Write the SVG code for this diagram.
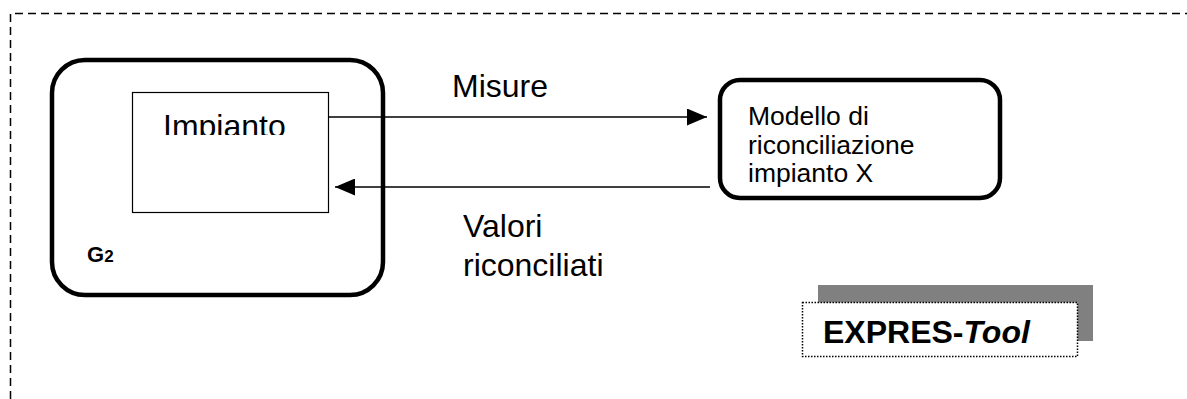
<svg xmlns="http://www.w3.org/2000/svg" width="1187" height="399" viewBox="0 0 1187 399">
  <style>
    .t { font-family: "Liberation Sans", Arial, sans-serif; fill: #000; }
    .big { font-size: 32px; }
    .mid { font-size: 26.5px; }
    .thick { fill: #fff; stroke: #000; stroke-width: 4.5; }
    .conn { stroke: #000; stroke-width: 1.5; fill: none; }
  </style>
  <defs>
    <marker id="arr" viewBox="0 0 20 17" refX="20" refY="8.5" markerWidth="20" markerHeight="17" markerUnits="userSpaceOnUse" orient="auto">
      <path d="M0,0 L20,8.5 L0,17 Z" fill="#000"/>
    </marker>
    <clipPath id="clipImp">
      <rect x="133" y="93" width="194" height="42"/>
    </clipPath>
  </defs>
  <rect width="1187" height="399" fill="#fff"/>

  <g id="frame">
    <path d="M10.5,399 L10.5,13.5 L1187,13.5" fill="none" stroke="#000" stroke-width="1.5" stroke-dasharray="8 5"/>
  </g>

  <g id="g2">
    <rect class="thick" x="52" y="60" width="331" height="235" rx="33" ry="33"/>
    <text class="t" x="87" y="262" font-weight="bold" font-size="22px">G<tspan font-size="17px">2</tspan></text>
  </g>

  <g id="impianto">
    <rect x="132.5" y="92.5" width="196" height="120" fill="#fff" stroke="#000" stroke-width="1.2"/>
    <text class="t big" x="163" y="137" clip-path="url(#clipImp)">Impianto</text>
  </g>

  <g id="modello">
    <rect class="thick" x="720" y="80" width="280" height="118" rx="20" ry="20"/>
    <text class="t mid" x="748" y="125">Modello di</text>
    <text class="t mid" x="748" y="153.5">riconciliazione</text>
    <text class="t mid" x="748" y="182">impianto X</text>
  </g>

  <g id="expres">
    <rect x="818" y="285" width="275" height="56" fill="#808080"/>
    <rect x="802.5" y="302.5" width="275" height="54" fill="#fff" stroke="#000" stroke-width="1.5" stroke-dasharray="1.5 1.5"/>
    <text class="t" x="823" y="343" font-size="32px" font-weight="bold">EXPRES-<tspan font-style="italic">Tool</tspan></text>
  </g>

  <g id="connectors">
    <line class="conn" x1="329" y1="117" x2="707" y2="117" marker-end="url(#arr)"/>
    <line class="conn" x1="710" y1="187" x2="335" y2="187" marker-end="url(#arr)"/>
  </g>

  <g id="labels">
    <text class="t big" x="452" y="97">Misure</text>
    <text class="t big" x="463" y="237">Valori</text>
    <text class="t big" x="463" y="276">riconciliati</text>
  </g>
</svg>
